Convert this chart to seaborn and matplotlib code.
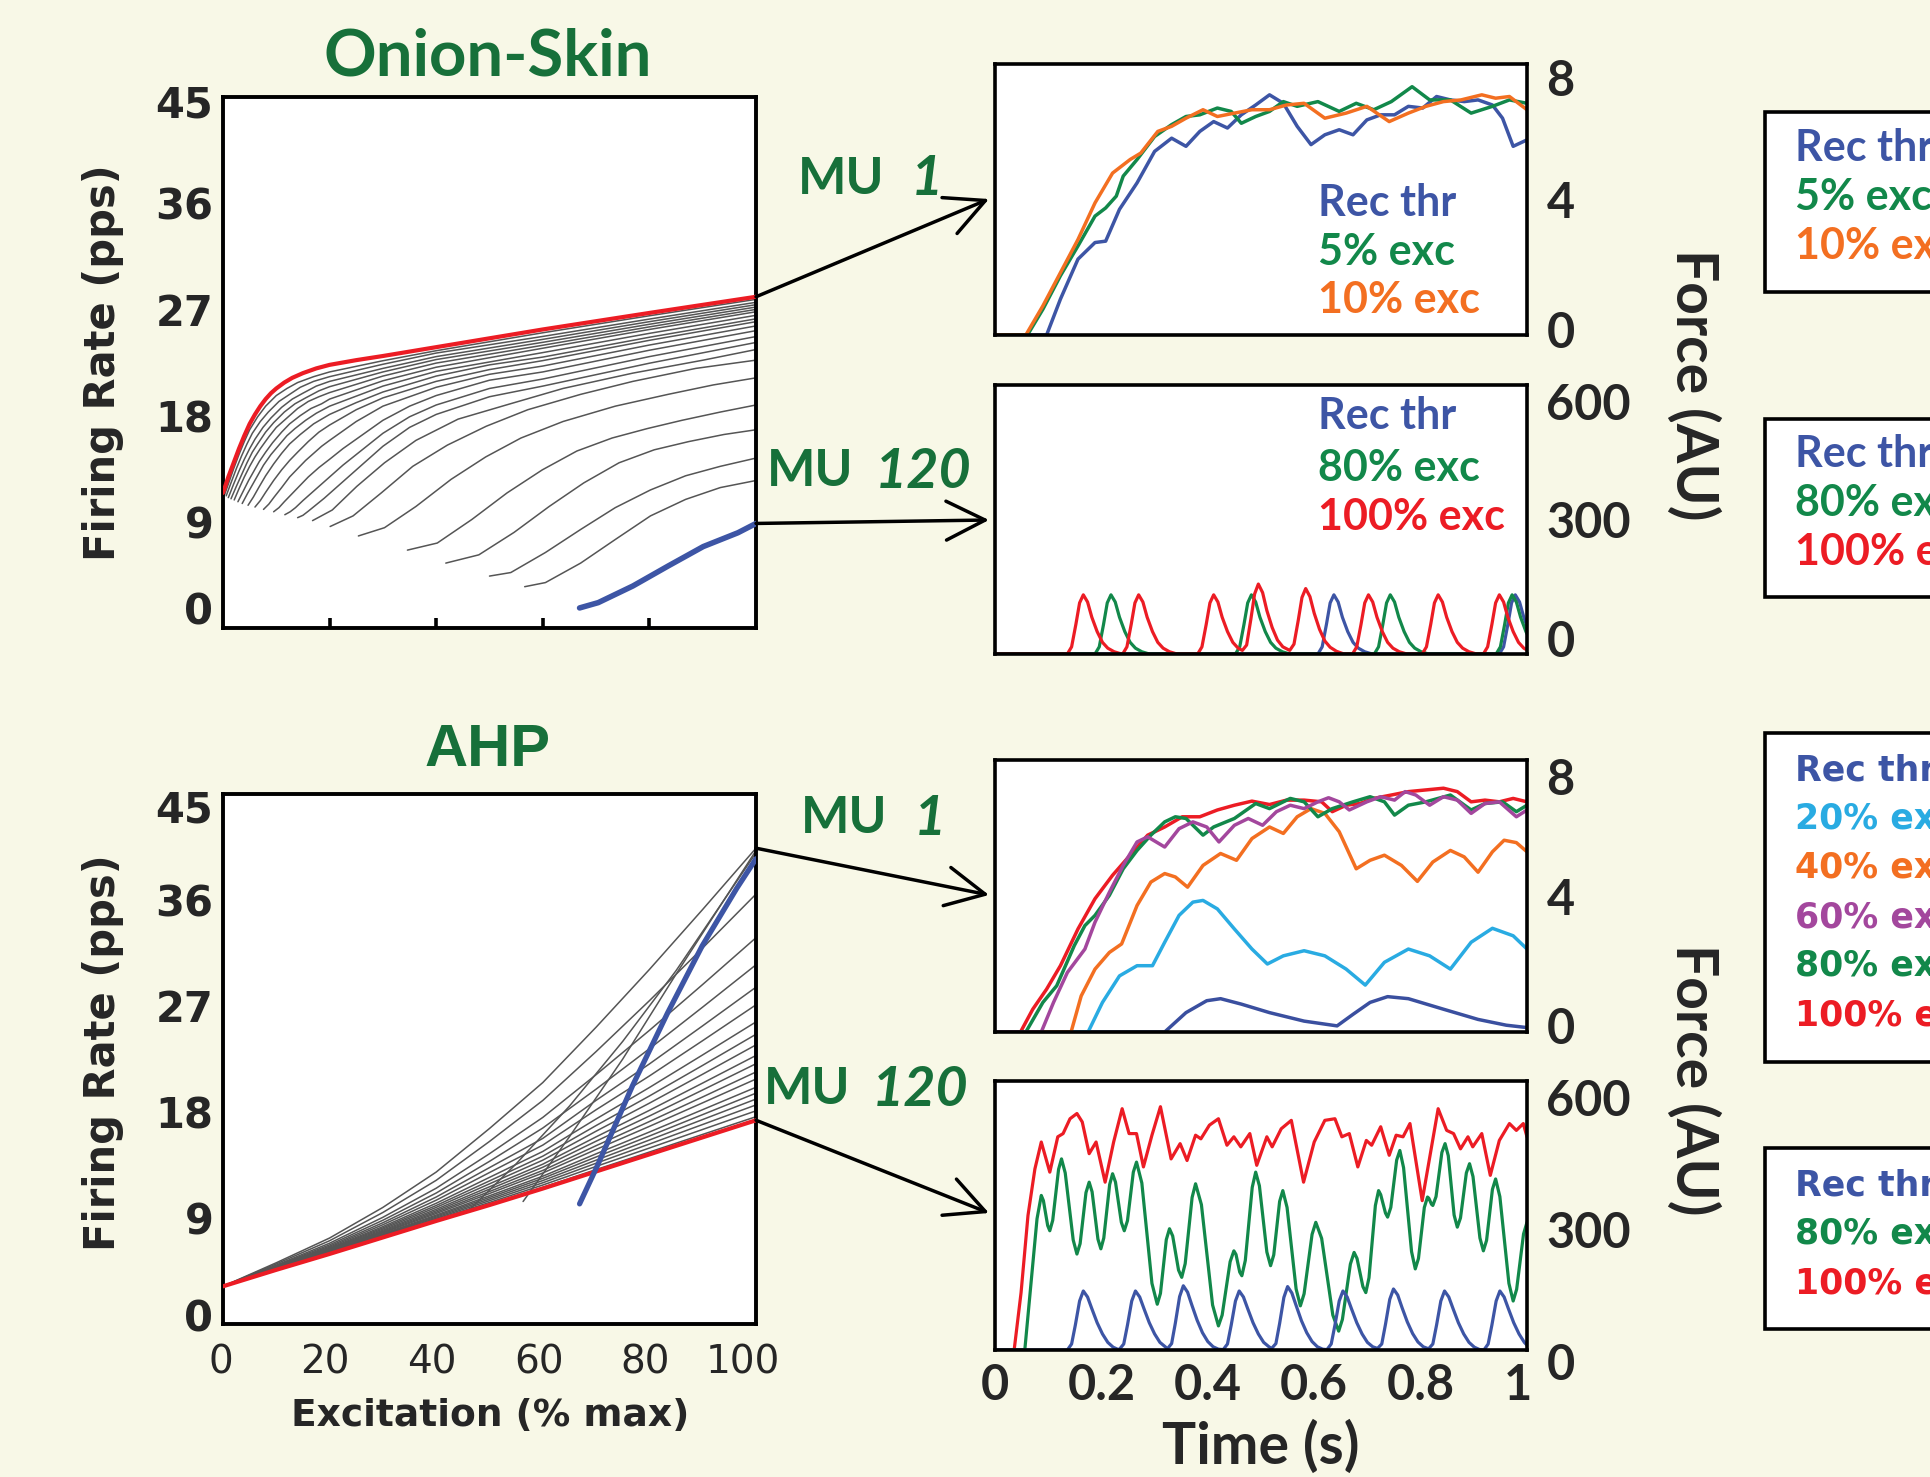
import matplotlib
matplotlib.use("Agg")
import matplotlib.pyplot as plt
import seaborn as sns
from matplotlib.patches import Rectangle, ConnectionPatch, ArrowStyle
from matplotlib.ticker import FixedLocator
from matplotlib.transforms import ScaledTranslation

# ---------------------------------------------------------------- data
# Onion-skin firing rate (pps) vs excitation (% max)
os_red_x = [0, 1, 2, 3, 4, 5, 6, 7, 8, 9, 10, 11.5, 13, 15, 17.5, 20, 25, 30, 40, 60, 80, 100]
os_red_y = [11.45, 12.8, 14.0, 15.2, 16.3, 17.3, 18.1, 18.8, 19.4, 19.9, 20.3, 20.8, 21.2, 21.6,
            22.0, 22.3, 22.7, 23.05, 23.8, 25.3, 26.7, 28.07]
os_blue_x = [66.9, 70.4, 76.9, 83.5, 90.1, 96.6, 100]
os_blue_y = [1.7, 2.15, 3.56, 5.25, 6.9, 8.07, 8.86]
os_grey_x = [
    [0.3, 1, 2, 3, 4, 5, 6.5, 8, 10, 12, 14, 17, 20, 30, 40, 60, 80, 100],
    [0.6, 1.5, 2.5, 3.5, 4.5, 5.5, 7, 8.5, 10.5, 12.5, 14.5, 17, 20, 30, 40, 60, 80, 100],
    [1.0, 2, 3, 4, 5, 6, 7.5, 9, 11, 13, 15, 17.5, 20, 30, 40, 60, 80, 100],
    [1.5, 2.5, 3.5, 4.5, 5.5, 6.5, 8, 9.5, 11.5, 13.5, 15.5, 18, 20, 30, 40, 60, 80, 100],
    [2.1, 3, 4, 5, 6, 7, 8.6, 10, 12, 14, 16, 18, 20, 30, 40, 60, 80, 100],
    [2.8, 3.8, 4.8, 5.8, 6.8, 8, 9.3, 11, 12.5, 14.5, 16.5, 18.5, 20, 30, 40, 60, 80, 100],
    [3.6, 4.6, 5.6, 6.6, 7.6, 9, 10.5, 12, 13.5, 15.5, 17.5, 20, 30, 40, 60, 80, 100],
    [4.7, 5.7, 6.7, 8, 9.5, 11, 12.5, 14.5, 17, 20, 25, 30, 40, 50, 60, 80, 100],
    [6.0, 7, 8, 9.5, 11, 12.5, 14, 16, 18, 20, 25, 30, 40, 50, 60, 80, 100],
    [7.6, 8.6, 9.6, 11, 12.5, 14, 15.5, 17, 18.5, 20, 25, 30, 40, 50, 60, 80, 100],
    [9.5, 10.5, 11.5, 13, 14.5, 16, 18, 20, 22.5, 25, 30, 35, 40, 50, 60, 80, 100],
    [11.6, 12.6, 13.6, 15, 16.5, 18, 20, 22.5, 25, 30, 35, 40, 50, 60, 80, 100],
    [14.0, 15, 16, 17.5, 19, 20.5, 22.5, 25, 30, 35, 40, 50, 60, 80, 100],
    [16.8, 20.5, 25.1, 30.3, 36.2, 44.1, 53.9, 63.8, 76.9, 90.1, 100],
    [20.1, 24.4, 29.7, 35.6, 42.1, 49.4, 57.2, 67.1, 76.9, 88.7, 100],
    [25.4, 30.3, 36.2, 42.8, 49.3, 55.9, 63.8, 73.6, 83.5, 92.0, 100],
    [34.6, 40.2, 46.7, 53.3, 59.9, 66.4, 73.0, 79.6, 86.1, 93.3, 100],
    [41.8, 48.0, 54.6, 61.2, 67.7, 74.3, 80.9, 87.4, 94.0, 100],
    [50.0, 54.0, 60.5, 67.1, 73.6, 80.2, 86.8, 93.3, 100],
    [56.6, 60.5, 67.1, 73.6, 80.2, 86.8, 93.3, 100],
]
os_grey_y = [
    [11.3, 12.2, 13.5, 14.7, 15.8, 16.8, 17.9, 18.8, 19.7, 20.3, 20.8, 21.3, 21.7, 22.65, 23.5, 25.02, 26.46, 27.85],
    [11.2, 12.3, 13.5, 14.6, 15.6, 16.5, 17.5, 18.3, 19.2, 19.8, 20.4, 20.9, 21.3, 22.35, 23.3, 24.71, 26.18, 27.6],
    [11.05, 12.2, 13.3, 14.3, 15.2, 16.0, 17.0, 17.8, 18.7, 19.4, 19.9, 20.5, 20.9, 22.0, 23.0, 24.46, 25.96, 27.4],
    [10.95, 12.0, 13.0, 14.0, 14.9, 15.6, 16.6, 17.4, 18.3, 19.0, 19.5, 20.1, 20.45, 21.7, 22.75, 24.21, 25.74, 27.2],
    [10.85, 11.8, 12.8, 13.7, 14.5, 15.2, 16.2, 17.0, 17.8, 18.6, 19.2, 19.6, 19.95, 21.35, 22.45, 23.96, 25.52, 27.0],
    [10.7, 11.6, 12.5, 13.3, 14.1, 14.9, 15.7, 16.6, 17.3, 18.0, 18.6, 19.0, 19.4, 20.95, 22.1, 23.71, 25.3, 26.8],
    [10.55, 11.4, 12.2, 13.0, 13.8, 14.7, 15.5, 16.3, 16.9, 17.6, 18.2, 18.8, 20.5, 21.75, 23.34, 24.97, 26.5],
    [10.4, 11.1, 11.9, 12.9, 13.9, 14.8, 15.6, 16.4, 17.3, 18.1, 19.1, 20.0, 21.35, 22.3, 22.96, 24.64, 26.2],
    [10.25, 10.8, 11.5, 12.5, 13.4, 14.2, 14.9, 15.8, 16.6, 17.2, 18.5, 19.5, 20.9, 21.9, 22.66, 24.38, 25.96],
    [10.05, 10.5, 11.1, 11.9, 12.8, 13.5, 14.2, 14.8, 15.4, 15.9, 17.5, 18.8, 20.4, 21.5, 22.2, 23.98, 25.6],
    [9.85, 10.2, 10.7, 11.4, 12.1, 12.8, 13.6, 14.3, 15.2, 16.0, 17.6, 18.8, 19.7, 21.0, 21.7, 23.54, 25.2],
    [9.6, 9.85, 10.2, 10.8, 11.4, 12.0, 12.8, 13.8, 14.7, 16.5, 17.9, 18.9, 20.3, 21.1, 23.0, 24.7],
    [9.35, 9.55, 9.9, 10.45, 11.0, 11.6, 12.4, 13.4, 15.4, 17.0, 18.1, 19.6, 20.5, 22.44, 24.2],
    [9.1, 10.0, 12.0, 14.0, 15.9, 17.7, 19.0, 20.3, 21.6, 22.7, 23.6],
    [8.6, 9.5, 11.45, 13.7, 15.5, 17.1, 18.5, 19.8, 20.9, 22.0, 22.7],
    [7.8, 8.5, 10.3, 12.6, 14.5, 16.1, 17.5, 18.8, 19.8, 20.6, 21.2],
    [6.6, 7.2, 9.2, 11.45, 13.4, 15.0, 16.1, 16.9, 17.6, 18.3, 18.9],
    [5.5, 6.2, 8.1, 10.3, 12.3, 14.0, 15.1, 15.8, 16.4, 16.8],
    [4.4, 4.7, 6.4, 8.35, 10.2, 11.7, 12.9, 13.7, 14.4],
    [3.5, 3.85, 5.5, 7.5, 9.5, 10.9, 11.9, 12.5],
]

# AHP firing rate (pps) vs excitation (% max)
ahp_x = [0, 10, 20, 30, 40, 50, 60, 70, 80, 90, 100]
ahp_red_y = [3.2, 4.6, 5.95, 7.35, 8.75, 10.1, 11.5, 12.95, 14.4, 15.85, 17.3]
ahp_grey_y = [
    [3.2, 4.61, 5.97, 7.38, 8.8, 10.18, 11.61, 13.11, 14.6, 16.1, 17.6],
    [3.2, 4.62, 6.0, 7.44, 8.89, 10.32, 11.8, 13.38, 14.94, 16.52, 18.1],
    [3.2, 4.63, 6.03, 7.49, 8.98, 10.47, 11.99, 13.65, 15.28, 16.94, 18.6],
    [3.2, 4.65, 6.06, 7.55, 9.07, 10.61, 12.18, 13.91, 15.62, 17.36, 19.1],
    [3.2, 4.66, 6.08, 7.6, 9.16, 10.75, 12.37, 14.18, 15.96, 17.78, 19.6],
    [3.2, 4.67, 6.11, 7.66, 9.25, 10.89, 12.55, 14.45, 16.3, 18.2, 20.1],
    [3.2, 4.69, 6.15, 7.74, 9.38, 11.08, 12.82, 14.82, 16.78, 18.78, 20.8],
    [3.2, 4.71, 6.19, 7.8, 9.49, 11.25, 13.04, 15.14, 17.19, 19.28, 21.4],
    [3.2, 4.72, 6.23, 7.88, 9.61, 11.45, 13.31, 15.52, 17.66, 19.87, 22.1],
    [3.2, 4.74, 6.27, 7.96, 9.74, 11.65, 13.57, 15.89, 18.14, 20.46, 22.8],
    [3.2, 4.77, 6.32, 8.06, 9.9, 11.9, 13.91, 16.37, 18.75, 21.21, 23.7],
    [3.2, 4.79, 6.38, 8.16, 10.06, 12.15, 14.25, 16.85, 19.36, 21.96, 24.6],
    [3.2, 4.82, 6.44, 8.27, 10.25, 12.45, 14.65, 17.41, 20.08, 22.85, 25.65],
    [3.2, 4.85, 6.52, 8.43, 10.51, 12.86, 15.19, 18.19, 21.06, 24.06, 27.1],
    [3.2, 4.89, 6.61, 8.6, 10.78, 13.28, 15.76, 18.99, 22.08, 25.32, 28.6],
    [3.2, 4.94, 6.72, 8.81, 11.12, 13.81, 16.64, 19.94, 23.37, 26.91, 30.5],
    [3.2, 5.0, 6.86, 9.06, 11.53, 14.46, 17.54, 21.17, 24.93, 28.83, 32.8],
    [3.2, 5.1, 7.07, 9.47, 12.2, 15.5, 18.98, 23.13, 27.45, 31.93, 36.5],
    [3.2, 5.2, 7.3, 9.9, 12.9, 16.6, 20.5, 25.2, 30.1, 35.2, 40.4],
]
ahp_late_x = [[46, 55, 65, 75, 85, 100], [56.3, 65, 75, 85, 100]]
ahp_late_y = [[9.6, 13.6, 18.5, 24.0, 30.0, 40.0], [10.4, 15.9, 22.5, 29.7, 40.2]]
ahp_blue_x = [66.9, 70.3, 76.8, 83.4, 89.9, 96.4, 100]
ahp_blue_y = [10.2, 13.5, 20.2, 26.4, 32.1, 37.0, 39.5]

# Force (AU) vs time (s): onion-skin, MU 1
f1_blue_t = [0, 0.097, 0.123, 0.156, 0.188, 0.208, 0.234, 0.267, 0.300, 0.332, 0.359, 0.385, 0.411, 0.437,
             0.463, 0.490, 0.516, 0.542, 0.568, 0.594, 0.620, 0.647, 0.673, 0.699, 0.725, 0.751, 0.777,
             0.804, 0.830, 0.856, 0.882, 0.908, 0.935, 0.954, 0.974, 1.0]
f1_blue_f = [0, 0, 1.06, 2.24, 2.73, 2.77, 3.71, 4.49, 5.42, 5.81, 5.57, 6.01, 6.30, 6.11, 6.50, 6.79,
             7.09, 6.84, 6.16, 5.62, 5.91, 6.06, 5.91, 6.35, 6.5, 6.5, 6.75, 6.70, 7.04, 6.94, 6.89,
             6.94, 6.79, 6.40, 5.57, 5.76]
f1_green_t = [0, 0.061, 0.090, 0.123, 0.156, 0.188, 0.208, 0.228, 0.241, 0.267, 0.300, 0.332, 0.359,
              0.385, 0.418, 0.444, 0.463, 0.490, 0.516, 0.542, 0.568, 0.607, 0.647, 0.679, 0.712, 0.745,
              0.784, 0.817, 0.856, 0.895, 0.935, 0.967, 1.0]
f1_green_f = [0, 0, 0.76, 1.75, 2.63, 3.51, 3.75, 4.1, 4.69, 5.18, 5.86, 6.21, 6.45, 6.5, 6.7, 6.6, 6.25,
              6.45, 6.6, 6.89, 6.75, 6.89, 6.6, 6.84, 6.65, 6.89, 7.33, 6.94, 6.94, 6.55, 6.75, 6.94, 6.84]
f1_orange_t = [0, 0.058, 0.090, 0.123, 0.156, 0.188, 0.221, 0.254, 0.274, 0.306, 0.332, 0.359, 0.391,
               0.418, 0.450, 0.483, 0.516, 0.548, 0.581, 0.620, 0.660, 0.699, 0.741, 0.777, 0.810, 0.843,
               0.876, 0.915, 0.941, 0.967, 1.0]
f1_orange_f = [0, 0, 0.86, 1.84, 2.82, 3.90, 4.78, 5.18, 5.37, 6.01, 6.16, 6.40, 6.65, 6.45, 6.55, 6.65,
               6.65, 6.79, 6.84, 6.40, 6.55, 6.75, 6.30, 6.55, 6.75, 6.89, 6.94, 7.09, 6.99, 7.04, 6.65]

# onion-skin, MU 120
f2_red_t = [0, 0.136, 0.144, 0.152, 0.159, 0.166, 0.174, 0.182, 0.192, 0.202, 0.212, 0.224, 0.238,
            0.240, 0.248, 0.256, 0.263, 0.270, 0.278, 0.286, 0.296, 0.306, 0.316, 0.328, 0.342,
            0.381, 0.389, 0.397, 0.404, 0.411, 0.419, 0.427, 0.437, 0.447, 0.457, 0.465,
            0.473, 0.481, 0.488, 0.495, 0.503, 0.511, 0.521, 0.531, 0.541, 0.554,
            0.562, 0.570, 0.577, 0.584, 0.592, 0.600, 0.610, 0.620, 0.630, 0.642, 0.656,
            0.672, 0.680, 0.688, 0.695, 0.702, 0.710, 0.718, 0.728, 0.738, 0.748, 0.760, 0.774,
            0.803, 0.811, 0.819, 0.826, 0.833, 0.841, 0.849, 0.859, 0.869, 0.879, 0.891, 0.905,
            0.918, 0.926, 0.934, 0.941, 0.948, 0.956, 0.964, 0.974, 0.984, 0.994, 1.0]
f2_red_f = [0, 0, 16, 66, 114, 132, 116, 82, 50, 26, 13, 5, 0,
            0, 16, 66, 114, 132, 116, 82, 50, 26, 13, 5, 0,
            0, 16, 66, 114, 132, 116, 82, 50, 26, 13, 8,
            20, 78, 134, 156, 137, 97, 59, 31, 16, 8,
            22, 75, 126, 146, 128, 91, 55, 29, 15, 6, 0,
            0, 16, 66, 114, 132, 116, 82, 50, 26, 13, 5, 0,
            0, 16, 66, 114, 132, 116, 82, 50, 26, 13, 5, 0,
            0, 16, 66, 114, 132, 116, 82, 50, 26, 13, 9]
f2_green_t = [0, 0.188, 0.196, 0.204, 0.211, 0.218, 0.226, 0.234, 0.244, 0.254, 0.264, 0.276, 0.290,
              0.452, 0.460, 0.468, 0.475, 0.482, 0.490, 0.498, 0.508, 0.518, 0.528, 0.540, 0.554,
              0.713, 0.721, 0.729, 0.736, 0.743, 0.751, 0.759, 0.769, 0.779, 0.789, 0.801, 0.815,
              0.942, 0.950, 0.958, 0.965, 0.972, 0.980, 0.988, 0.998, 1.0]
f2_green_f = [0, 0, 16, 66, 114, 132, 116, 82, 50, 26, 13, 5, 0,
              0, 16, 66, 114, 132, 116, 82, 50, 26, 13, 5, 0,
              0, 16, 66, 114, 132, 116, 82, 50, 26, 13, 5, 0,
              0, 16, 66, 114, 132, 116, 82, 50, 45]
f2_blue_t = [0, 0.607, 0.615, 0.623, 0.630, 0.637, 0.645, 0.653, 0.663, 0.673, 0.683, 0.695, 0.709,
             0.948, 0.956, 0.964, 0.971, 0.978, 0.986, 0.994, 1.0]
f2_blue_f = [0, 0, 16, 66, 114, 132, 116, 82, 50, 26, 13, 5, 0,
             0, 16, 66, 114, 132, 116, 82, 62]

# AHP, MU 1
f3_red_t = [0, 0.048, 0.071, 0.097, 0.123, 0.156, 0.188, 0.221, 0.254, 0.287, 0.319, 0.352, 0.385,
            0.418, 0.450, 0.483, 0.516, 0.548, 0.581, 0.614, 0.634, 0.660, 0.686, 0.712, 0.745, 0.777,
            0.810, 0.843, 0.869, 0.895, 0.921, 0.948, 0.974, 1.0]
f3_red_f = [0, 0, 0.67, 1.26, 1.95, 3.03, 3.92, 4.61, 5.2, 5.79, 6.03, 6.33, 6.33, 6.53, 6.67, 6.79,
            6.69, 6.82, 6.82, 6.77, 6.48, 6.67, 6.72, 6.87, 6.97, 7.07, 7.12, 7.17, 7.07, 6.77, 6.82,
            6.77, 6.87, 6.77]
f3_green_t = [0, 0.058, 0.090, 0.116, 0.149, 0.169, 0.188, 0.215, 0.241, 0.267, 0.293, 0.319, 0.339,
              0.359, 0.391, 0.411, 0.450, 0.490, 0.516, 0.555, 0.581, 0.607, 0.634, 0.673, 0.705, 0.732,
              0.751, 0.777, 0.810, 0.856, 0.895, 0.921, 0.954, 0.980, 1.0]
f3_green_f = [0, 0, 0.87, 1.36, 2.54, 3.13, 3.43, 4.02, 4.8, 5.34, 5.79, 6.18, 6.33, 6.28, 5.79, 6.03,
              6.28, 6.72, 6.57, 6.87, 6.77, 6.33, 6.57, 6.77, 6.92, 6.77, 6.38, 6.67, 6.77, 6.97, 6.53,
              6.72, 6.77, 6.48, 6.67]
f3_purple_t = [0, 0.087, 0.110, 0.136, 0.169, 0.188, 0.215, 0.241, 0.267, 0.287, 0.319, 0.346, 0.372,
               0.398, 0.421, 0.450, 0.476, 0.503, 0.529, 0.555, 0.581, 0.607, 0.627, 0.647, 0.666, 0.699,
               0.725, 0.751, 0.771, 0.791, 0.817, 0.843, 0.869, 0.895, 0.921, 0.948, 0.980, 1.0]
f3_purple_f = [0, 0, 0.87, 1.75, 2.44, 3.23, 4.11, 4.9, 5.59, 5.74, 5.44, 5.98, 6.18, 6.03, 5.59, 6.08,
               6.28, 6.08, 6.48, 6.67, 6.57, 6.77, 6.89, 6.77, 6.53, 6.77, 6.92, 6.82, 7.07, 6.97, 6.67,
               6.92, 6.82, 6.43, 6.72, 6.77, 6.33, 6.53]
f3_orange_t = [0, 0.143, 0.162, 0.188, 0.215, 0.238, 0.267, 0.293, 0.319, 0.339, 0.362, 0.391, 0.424,
               0.454, 0.483, 0.516, 0.542, 0.568, 0.594, 0.620, 0.647, 0.679, 0.705, 0.732, 0.764, 0.794,
               0.823, 0.856, 0.882, 0.908, 0.935, 0.957, 0.980, 1.0]
f3_orange_f = [0, 0, 1.06, 1.85, 2.34, 2.59, 3.72, 4.41, 4.66, 4.56, 4.26, 4.90, 5.25, 5.05, 5.69, 6.03,
               5.84, 6.33, 6.57, 6.43, 5.89, 4.80, 5.05, 5.20, 4.90, 4.43, 5.0, 5.34, 5.15, 4.70, 5.30,
               5.64, 5.57, 5.30]
f3_cyan_t = [0, 0.175, 0.202, 0.234, 0.267, 0.296, 0.319, 0.346, 0.372, 0.391, 0.418, 0.450, 0.483,
             0.512, 0.542, 0.581, 0.620, 0.660, 0.696, 0.732, 0.777, 0.817, 0.856, 0.895, 0.935, 0.974, 1.0]
f3_cyan_f = [0, 0, 0.87, 1.65, 1.95, 1.95, 2.64, 3.43, 3.82, 3.87, 3.62, 3.03, 2.44, 2.0, 2.24, 2.39,
             2.24, 1.85, 1.38, 2.05, 2.44, 2.24, 1.85, 2.64, 3.05, 2.83, 2.44]
f3_blue_t = [0, 0.319, 0.359, 0.398, 0.424, 0.463, 0.516, 0.581, 0.643, 0.673, 0.705, 0.738, 0.777,
             0.843, 0.908, 0.961, 1.0]
f3_blue_f = [0, 0, 0.57, 0.92, 0.98, 0.82, 0.57, 0.32, 0.18, 0.52, 0.87, 1.04, 0.98, 0.67, 0.37, 0.20, 0.13]

# AHP, MU 120
f4_red_t = [0, 0.036, 0.049, 0.062, 0.075, 0.087, 0.103, 0.118, 0.128, 0.141, 0.154, 0.164, 0.177,
            0.190, 0.207, 0.223, 0.239, 0.252, 0.266, 0.279, 0.295, 0.311, 0.331, 0.348, 0.361, 0.377,
            0.387, 0.403, 0.420, 0.436, 0.449, 0.462, 0.479, 0.492, 0.511, 0.521, 0.538, 0.557, 0.580,
            0.600, 0.620, 0.639, 0.652, 0.666, 0.682, 0.698, 0.708, 0.725, 0.741, 0.754, 0.767, 0.780,
            0.803, 0.833, 0.849, 0.862, 0.875, 0.889, 0.898, 0.915, 0.931, 0.948, 0.967, 0.980, 0.993, 1.0]
f4_red_f = [0, 0, 143, 335, 451, 518, 443, 531, 539, 576, 589, 568, 489, 518, 418, 518, 601, 539, 539,
            456, 535, 606, 476, 514, 472, 535, 526, 560, 576, 510, 531, 506, 539, 460, 531, 506, 551,
            572, 418, 518, 572, 576, 531, 539, 456, 522, 510, 556, 485, 535, 531, 564, 372, 601, 547,
            539, 501, 531, 506, 539, 435, 522, 564, 547, 564, 531]
f4_green_t = [0, 0.056, 0.069, 0.079, 0.087, 0.091, 0.099, 0.103, 0.1085, 0.1195,
              0.125, 0.132, 0.147, 0.154, 0.160, 0.171, 0.177, 0.1825, 0.1935, 0.199,
              0.2045, 0.2155, 0.221, 0.2265, 0.2375, 0.243, 0.249, 0.260, 0.266, 0.276,
              0.295, 0.305, 0.311, 0.322, 0.328, 0.334, 0.345, 0.351, 0.3575, 0.3705,
              0.377, 0.388, 0.409, 0.420, 0.427, 0.442, 0.449, 0.453, 0.460, 0.464,
              0.4705, 0.4835, 0.490, 0.497, 0.511, 0.518, 0.524, 0.535, 0.541, 0.549,
              0.566, 0.574, 0.581, 0.596, 0.603, 0.614, 0.635, 0.646, 0.653, 0.668,
              0.675, 0.6805, 0.6915, 0.697, 0.703, 0.715, 0.721, 0.725, 0.734, 0.738,
              0.744, 0.755, 0.761, 0.768, 0.783, 0.790, 0.796, 0.807, 0.813, 0.8155,
              0.8205, 0.823, 0.829, 0.840, 0.846, 0.852, 0.863, 0.869, 0.875, 0.886,
              0.892, 0.8985, 0.9115, 0.918, 0.924, 0.935, 0.941, 0.949, 0.966, 0.974,
              0.9805, 0.9935, 1.0]
f4_green_f = [0, 0, 185, 327, 385, 372, 310, 297, 323, 450,
              476, 441, 274, 239, 265, 392, 418, 394, 276, 252,
              279, 412, 439, 418, 318, 297, 322, 443, 468, 416,
              166, 114, 141, 275, 302, 284, 199, 181, 215, 380,
              414, 362, 112, 60, 87, 220, 247, 238, 194, 185,
              223, 405, 443, 409, 244, 210, 237, 370, 397, 355,
              152, 110, 140, 288, 318, 278, 87, 47, 76, 214,
              243, 228, 158, 143, 180, 360, 397, 387, 341, 331,
              355, 473, 497, 454, 245, 202, 228, 355, 381, 378,
              363, 360, 382, 492, 514, 484, 336, 306, 329, 441,
              464, 432, 279, 247, 273, 400, 426, 382, 166, 122,
              151, 289, 318]
f4_blue_t = [0, 0.136, 0.144, 0.151, 0.159, 0.166, 0.174, 0.182, 0.192, 0.202, 0.212, 0.222, 0.232,
             0.234, 0.242, 0.249, 0.257, 0.264, 0.272, 0.280, 0.290, 0.300, 0.310, 0.320,
             0.324, 0.332, 0.339, 0.347, 0.354, 0.362, 0.370, 0.380, 0.390, 0.400, 0.410, 0.420,
             0.429, 0.437, 0.444, 0.452, 0.459, 0.467, 0.475, 0.485, 0.495, 0.505, 0.515,
             0.520, 0.528, 0.535, 0.543, 0.550, 0.558, 0.566, 0.576, 0.586, 0.596, 0.606, 0.616,
             0.624, 0.632, 0.639, 0.647, 0.654, 0.662, 0.670, 0.680, 0.690, 0.700, 0.710,
             0.719, 0.727, 0.734, 0.742, 0.749, 0.757, 0.765, 0.775, 0.785, 0.795, 0.805,
             0.815, 0.823, 0.830, 0.838, 0.845, 0.853, 0.861, 0.871, 0.881, 0.891, 0.901, 0.911,
             0.919, 0.927, 0.934, 0.942, 0.949, 0.957, 0.965, 0.975, 0.985, 0.995, 1.0]
f4_blue_f = [0, 0, 15, 62, 122, 147, 132, 103, 68, 40, 19, 7, 1,
             2, 15, 62, 122, 147, 132, 103, 68, 40, 19, 8,
             3, 16, 67, 133, 160, 144, 112, 74, 43, 21, 8, 2,
             1, 15, 62, 122, 147, 132, 103, 68, 40, 19, 8,
             4, 16, 66, 131, 158, 142, 111, 73, 43, 21, 8, 2,
             1, 15, 62, 122, 147, 132, 103, 68, 40, 19, 8,
             4, 15, 64, 126, 152, 137, 106, 70, 41, 20, 8,
             3, 15, 62, 122, 147, 132, 103, 68, 40, 19, 7, 1,
             0, 15, 62, 122, 147, 132, 103, 68, 40, 19, 12]

# ---------------------------------------------------------------- style
BG = "#f8f8e7"
GREEN_T = "#17703a"
C_BLUE = "#3d55a5"
C_GREEN = "#12884a"
C_ORANGE = "#f36f21"
C_RED = "#ec1c24"
C_CYAN = "#29abe2"
C_PURPLE = "#a3479d"
C_GREY = "#555555"

sns.set_theme(style="white")
plt.rcParams["font.family"] = ["Lato", "DejaVu Sans"]
plt.rcParams["lines.solid_joinstyle"] = "round"
plt.rcParams["lines.solid_capstyle"] = "round"

W, H, DPI = 1931, 1477, 100
fig = plt.figure(figsize=(W / DPI, H / DPI), dpi=DPI, facecolor=BG)


def fx(px):
    return px / W


def fy(py):
    return 1 - py / H


def rect(l, t, r, b):
    return [fx(l), fy(b), (r - l) / W, (b - t) / H]


def line(ax, x, y, color, lw, z=2):
    sns.lineplot(x=x, y=y, ax=ax, color=color, linewidth=lw, estimator=None,
                 sort=False, legend=False, zorder=z)


def frame(ax, lw):
    ax.set_facecolor("white")
    for s in ax.spines.values():
        s.set_visible(True)
        s.set_color("black")
        s.set_linewidth(lw)
    ax.set_xlabel("")
    ax.set_ylabel("")


def nudge(ax, axis, value, dx=0, dy=0):
    """Shift the tick label at `value` by (dx, dy) pixels."""
    ticks = ax.yaxis.get_major_ticks() if axis == "y" else ax.xaxis.get_major_ticks()
    for tick in ticks:
        if abs(tick.get_loc() - value) < 1e-9:
            for lab in (tick.label1, tick.label2):
                lab.set_transform(lab.get_transform()
                                  + ScaledTranslation(dx / DPI, dy / DPI, fig.dpi_scale_trans))


ax_os = fig.add_axes(rect(223, 97, 756, 628))
ax_ahp = fig.add_axes(rect(223, 794, 756, 1324))
ax_f1 = fig.add_axes(rect(995, 64, 1527, 335))
ax_f2 = fig.add_axes(rect(995, 385, 1527, 654))
ax_f3 = fig.add_axes(rect(995, 760, 1527, 1032))
ax_f4 = fig.add_axes(rect(995, 1081, 1527, 1350))

# ---- onion-skin rate curves
for xs, ys in zip(os_grey_x, os_grey_y):
    line(ax_os, xs, ys, C_GREY, 1.1)
line(ax_os, os_red_x, os_red_y, C_RED, 3.0, 3)
line(ax_os, os_blue_x, os_blue_y, C_BLUE, 4.0, 3)

# ---- AHP rate curves
for ys in ahp_grey_y:
    line(ax_ahp, ahp_x, ys, C_GREY, 1.1)
for xs, ys in zip(ahp_late_x, ahp_late_y):
    line(ax_ahp, xs, ys, C_GREY, 1.1)
line(ax_ahp, ahp_x, ahp_red_y, C_RED, 3.0, 3)
line(ax_ahp, ahp_blue_x, ahp_blue_y, C_BLUE, 3.8, 4)

for ax, show_x in ((ax_os, False), (ax_ahp, True)):
    frame(ax, 2.8)
    ax.set_xlim(0, 100)
    ax.set_ylim(0, 45)
    ax.set_yticks([0, 9, 18, 27, 36, 45], labels=["0", "9", "18", "27", "36", "45"],
                  fontfamily="DejaVu Sans", fontweight="bold", fontsize=30)
    ax.yaxis.set_minor_locator(FixedLocator([9, 18, 27, 36]))
    ax.xaxis.set_minor_locator(FixedLocator([20, 40, 60, 80]))
    ax.tick_params(axis="y", which="major", length=0, pad=7, left=True)
    ax.tick_params(axis="both", which="minor", length=7, width=2.6, direction="in",
                   left=True, bottom=True, color="black")
    if show_x:
        ax.set_xticks([0, 20, 40, 60, 80, 100], labels=["0", "20", "40", "60", "80", "100"],
                      fontfamily="DejaVu Sans", fontsize=28)
        ax.tick_params(axis="x", which="major", length=0, pad=14)
    else:
        ax.set_xticks([])

nudge(ax_os, "y", 0, dy=20)
nudge(ax_os, "y", 45, dy=-4)
nudge(ax_ahp, "y", 0, dy=9)
nudge(ax_ahp, "y", 45, dy=-12)
for v, dx in ((0, -2), (20, -5), (40, -4), (60, -4), (80, -4), (100, -13)):
    nudge(ax_ahp, "x", v, dx=dx)

# ---- force traces
line(ax_f1, f1_blue_t, f1_blue_f, C_BLUE, 2.5)
line(ax_f1, f1_green_t, f1_green_f, C_GREEN, 2.5)
line(ax_f1, f1_orange_t, f1_orange_f, C_ORANGE, 2.5)

line(ax_f2, f2_blue_t, f2_blue_f, C_BLUE, 2.3)
line(ax_f2, f2_green_t, f2_green_f, C_GREEN, 2.3)
line(ax_f2, f2_red_t, f2_red_f, C_RED, 2.3)

line(ax_f3, f3_blue_t, f3_blue_f, "#3a4f9f", 2.5)
line(ax_f3, f3_cyan_t, f3_cyan_f, C_CYAN, 2.5)
line(ax_f3, f3_orange_t, f3_orange_f, C_ORANGE, 2.5)
line(ax_f3, f3_red_t, f3_red_f, C_RED, 2.5)
line(ax_f3, f3_green_t, f3_green_f, C_GREEN, 2.5)
line(ax_f3, f3_purple_t, f3_purple_f, C_PURPLE, 2.5)

line(ax_f4, f4_red_t, f4_red_f, C_RED, 2.3)
line(ax_f4, f4_green_t, f4_green_f, C_GREEN, 2.3)
line(ax_f4, f4_blue_t, f4_blue_f, C_BLUE, 2.3)

for ax, ymax, ticks, mid in ((ax_f1, 8, [0, 4, 8], 4), (ax_f2, 600, [0, 300, 600], 300),
                             (ax_f3, 8, [0, 4, 8], 4), (ax_f4, 670, [0, 300, 600], 300)):
    frame(ax, 2.6)
    ax.set_xlim(0, 1)
    ax.set_ylim(0, ymax)
    ax.yaxis.tick_right()
    ax.set_yticks(ticks, labels=[str(t) for t in ticks], fontweight="bold", fontsize=35)
    ax.yaxis.set_minor_locator(FixedLocator([mid]))
    ax.tick_params(axis="y", which="major", length=0, pad=14, right=True, left=False)
    ax.tick_params(axis="y", which="minor", length=7, width=2.6, direction="in",
                   right=True, left=False, color="black")
    ax.set_xticks([])

ax_f4.set_xticks([0, 0.2, 0.4, 0.6, 0.8, 1.0], labels=["0", "0.2", "0.4", "0.6", "0.8", "1"],
                 fontweight="bold", fontsize=35)
ax_f4.tick_params(axis="x", which="major", length=0, pad=9)

nudge(ax_f1, "y", 8, dy=-14)
nudge(ax_f1, "y", 0, dy=5)
nudge(ax_f2, "y", 600, dy=-17)
nudge(ax_f2, "y", 0, dy=16)
nudge(ax_f3, "y", 8, dy=-16)
nudge(ax_f3, "y", 0, dy=6)
nudge(ax_f4, "y", 600, dy=12)
nudge(ax_f4, "y", 0, dy=-11)
nudge(ax_f4, "x", 1.0, dx=-9)

# ---------------------------------------------------------------- text
fig.text(fx(488), fy(57), "Onion-Skin", color=GREEN_T, fontsize=47, fontweight="bold",
         ha="center", va="center")
fig.text(fx(488), fy(751), "AHP", color=GREEN_T, fontsize=43, fontweight="bold",
         family="Liberation Sans", ha="center", va="center")
for ycen in (363, 1053):
    fig.text(fx(103), fy(ycen), "Firing Rate (pps)", rotation=90, fontsize=30,
             fontweight="bold", family="DejaVu Sans", ha="center", va="center")
fig.text(fx(490), fy(1416), "Excitation (% max)", fontsize=27, fontweight="bold",
         family="DejaVu Sans", ha="center", va="center")
fig.text(fx(1261), fy(1447), "Time (s)", fontsize=41, fontweight="bold", ha="center", va="center")
for ycen in (385, 1080):
    fig.text(fx(1693), fy(ycen), "Force (AU)", rotation=270, fontsize=41, fontweight="bold",
             ha="center", va="center")

for mu_right, num_left, ycen, num in ((884, 911, 179, "1"), (853, 875, 472, "120"),
                                      (887, 914, 819, "1"), (850, 872, 1090, "120")):
    fig.text(fx(mu_right), fy(ycen), "MU", color=GREEN_T, fontsize=37, fontweight="bold",
             ha="right", va="center")
    fig.text(fx(num_left), fy(ycen), num, color=GREEN_T, fontsize=40, fontweight="bold",
             style="italic", ha="left", va="center")

# labels inside the onion-skin force panels
for label, col, ycen in (("Rec thr", C_BLUE, 203), ("5% exc", C_GREEN, 252),
                         ("10% exc", C_ORANGE, 300), ("Rec thr", C_BLUE, 416),
                         ("80% exc", C_GREEN, 468), ("100% exc", C_RED, 517)):
    fig.text(fx(1318), fy(ycen), label, color=col, fontsize=31, fontweight="bold",
             ha="left", va="center")

# boxed keys along the right edge
keys = [
    (112, 292, "Lato", 31, [("Rec thr", C_BLUE), ("5% exc", C_GREEN), ("10% exc", C_ORANGE)], 148),
    (419, 597, "Lato", 31, [("Rec thr", C_BLUE), ("80% exc", C_GREEN), ("100% exc", C_RED)], 454),
    (733, 1062, "DejaVu Sans", 25, [("Rec thr", C_BLUE), ("20% exc", C_CYAN), ("40% exc", C_ORANGE),
                                    ("60% exc", C_PURPLE), ("80% exc", C_GREEN), ("100% exc", C_RED)], 770),
    (1148, 1329, "DejaVu Sans", 25, [("Rec thr", C_BLUE), ("80% exc", C_GREEN), ("100% exc", C_RED)], 1185),
]
for top, bottom, fam, size, rows, y0 in keys:
    fig.add_artist(Rectangle((fx(1765), fy(bottom)), (1990 - 1765) / W, (bottom - top) / H,
                             transform=fig.transFigure, facecolor="white", edgecolor="black",
                             linewidth=2.6, zorder=1))
    for i, (label, col) in enumerate(rows):
        fig.text(fx(1795), fy(y0 + 49 * i), label, color=col, family=fam, fontsize=size,
                 fontweight="bold", ha="left", va="center", zorder=2)

# ---------------------------------------------------------------- arrows
head = ArrowStyle("->", head_length=0.7, head_width=0.35)
for ax, xy, target in ((ax_os, (100, os_red_y[-1]), (989, 199)),
                       (ax_os, (100, os_blue_y[-1]), (989, 520)),
                       (ax_ahp, (100, ahp_grey_y[-1][-1]), (989, 895)),
                       (ax_ahp, (100, ahp_red_y[-1]), (989, 1213))):
    con = ConnectionPatch(xyA=xy, coordsA=ax.transData, xyB=(fx(target[0]), fy(target[1])),
                          coordsB=fig.transFigure, arrowstyle=head, mutation_scale=40,
                          linewidth=2.5, color="black")
    fig.add_artist(con)

fig.savefig("out.png", dpi=DPI, facecolor=BG)
